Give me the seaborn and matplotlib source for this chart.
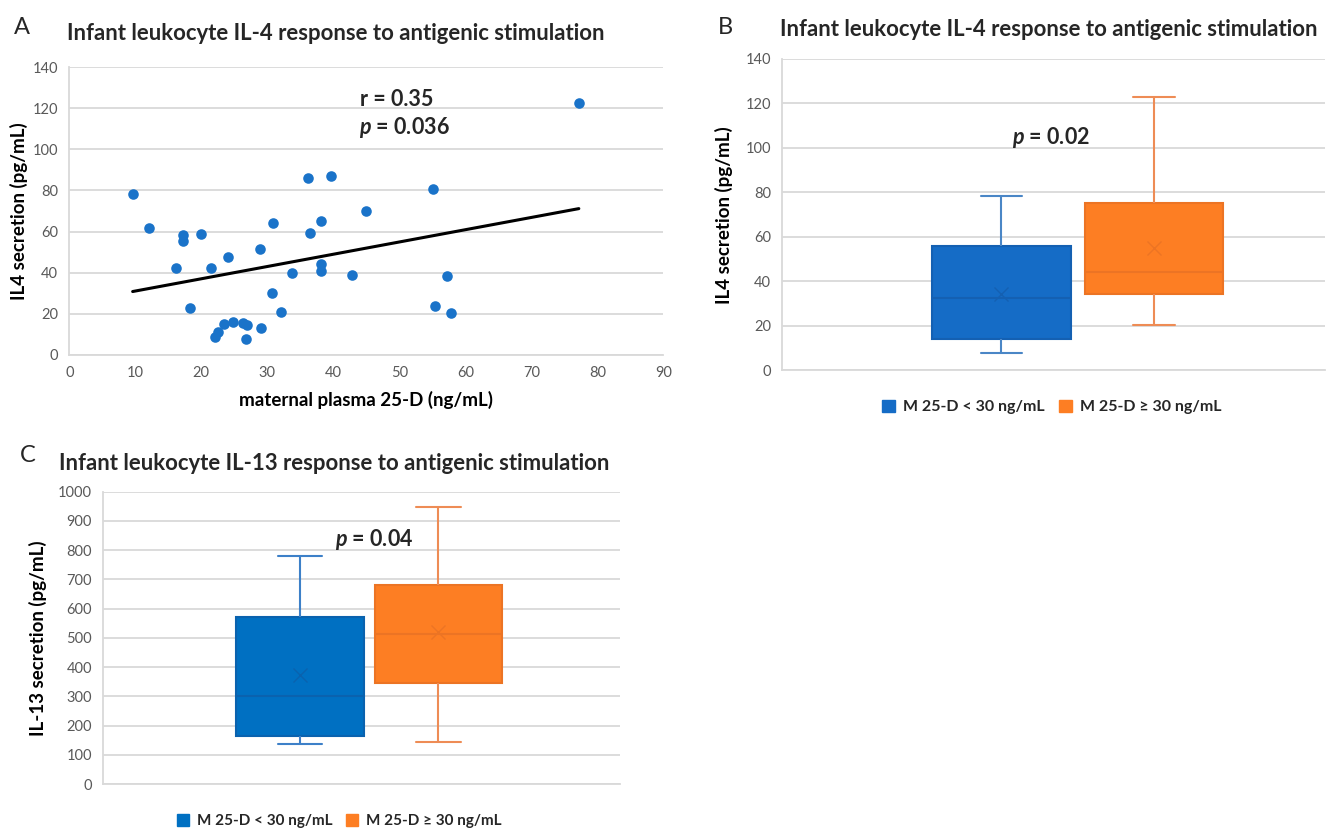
import numpy as np
import pandas as pd
import matplotlib
matplotlib.use("Agg")
import matplotlib.pyplot as plt
import matplotlib.cbook as cbook
from matplotlib.patches import Patch
import seaborn as sns

# ---------------- data ----------------
# Panel A: maternal plasma 25-D vs infant IL-4 secretion
vitd_ng_ml = [9.6, 12.1, 16.1, 17.2, 17.3, 18.3, 19.9, 21.5, 22.0, 22.6, 23.5, 24.8,
              24.1, 26.3, 26.9, 26.7, 28.9, 29.1, 30.8, 30.7, 32.1, 33.8, 36.2, 36.4,
              38.2, 38.2, 38.2, 39.6, 42.8, 45.0, 55.1, 55.4, 57.2, 57.9, 77.2]
il4_pg_ml = [78.3, 61.6, 42.4, 58.5, 55.2, 22.7, 58.9, 42.2, 8.8, 11.1, 14.8, 16.1,
             47.4, 15.3, 14.3, 7.8, 51.5, 13.0, 64.1, 30.1, 20.8, 39.8, 86.2, 59.1,
             44.2, 40.9, 65.3, 87.2, 38.7, 70.1, 80.6, 23.7, 38.5, 20.5, 122.7]
vitd_cutoff = 30

# Panel C: IL-13 secretion per group (pg/mL)
il13_low = [137, 164, 250, 300, 408, 572, 780]
il13_high = [143, 347, 440, 513, 564, 680, 946]

group_labels = ["M 25-D < 30 ng/mL", "M 25-D \u2265 30 ng/mL"]
titles = ["Infant leukocyte IL-4 response to antigenic stimulation",
          "Infant leukocyte IL-4 response to antigenic stimulation",
          "Infant leukocyte IL-13 response to antigenic stimulation"]

# --------------- Excel-style (exclusive) quartiles for box plots ---------------
_orig_boxplot_stats = cbook.boxplot_stats


def excel_boxplot_stats(X, whis=1.5, bootstrap=None, labels=None, autorange=False):
    stats = _orig_boxplot_stats(X, whis=whis, bootstrap=bootstrap, labels=labels,
                                autorange=autorange)
    for st, x in zip(stats, X):
        x = np.asarray(x, dtype=float)
        q1, med, q3 = np.percentile(x, [25, 50, 75], method="weibull")
        iqr = q3 - q1
        lo, hi = q1 - whis * iqr, q3 + whis * iqr
        inside = x[(x >= lo) & (x <= hi)]
        st.update(q1=q1, med=med, q3=q3, iqr=iqr, whislo=inside.min(),
                  whishi=inside.max(), fliers=x[(x < lo) | (x > hi)],
                  mean=x.mean())
    return stats


cbook.boxplot_stats = excel_boxplot_stats

# ---------------- style ----------------
sns.set_theme(style="white")
FONT = ["Lato", "DejaVu Sans"]
plt.rcParams["font.family"] = FONT
plt.rcParams["mathtext.fontset"] = "custom"
plt.rcParams["mathtext.it"] = "Lato:italic:bold"
plt.rcParams["mathtext.rm"] = "Lato:bold"

W, H = 1331, 832
fig = plt.figure(figsize=(W / 100, H / 100), dpi=100)

GRID = "#D9D9D9"
TICK = "#595959"
BLUE_A = "#1A73C9"


def ax_at(l, t, r, b):
    return fig.add_axes([l / W, 1 - b / H, (r - l) / W, (b - t) / H])


def style_axes(ax, yticks):
    ax.set_axisbelow(True)
    ax.set_yticks(yticks)
    ax.yaxis.grid(True, color=GRID, lw=1.3)
    ax.xaxis.grid(False)
    for s in ["top", "right"]:
        ax.spines[s].set_visible(False)
    for s in ["left", "bottom"]:
        ax.spines[s].set_color(GRID)
        ax.spines[s].set_linewidth(1.3)
    ax.tick_params(axis="both", length=0, labelsize=10.5, labelcolor=TICK, pad=8)


def ftext(x, y, s, **kw):
    fig.text(x / W, 1 - y / H, s, **kw)


# ---------------- Panel A ----------------
axA = ax_at(69.3, 67.3, 663.3, 354.7)
sns.scatterplot(x=vitd_ng_ml, y=il4_pg_ml, color=BLUE_A, s=58, linewidth=0, ax=axA, zorder=3)
sns.regplot(x=vitd_ng_ml, y=il4_pg_ml, scatter=False, ci=None, truncate=True,
            color="black", line_kws=dict(lw=2.2), ax=axA)
axA.set_xlim(0, 90)
axA.set_ylim(0, 140)
axA.set_xticks(range(0, 91, 10))
style_axes(axA, range(0, 141, 20))
axA.set_xlabel("maternal plasma 25-D (ng/mL)", fontsize=13.5, fontweight="bold", color="black")
axA.xaxis.set_label_coords(0.4995, -0.125)
axA.set_ylabel("IL4 secretion (pg/mL)", fontsize=13.5, fontweight="bold", color="black")
axA.yaxis.set_label_coords(-0.07, 0.5)


# ---------------- box panels ----------------
def box_panel(ax, values_low, values_high, faces, edges, whisk, gap, capw):
    df = pd.DataFrame({
        "panel": [""] * (len(values_low) + len(values_high)),
        "group": [group_labels[0]] * len(values_low) + [group_labels[1]] * len(values_high),
        "value": list(values_low) + list(values_high),
    })
    for i, lvl in enumerate(group_labels):
        sns.boxplot(data=df[df["group"] == lvl], x="panel", y="value", hue="group",
                    hue_order=group_labels, palette=dict(zip(group_labels, faces)),
                    saturation=1, dodge=True, width=0.8, gap=gap, linewidth=1.5,
                    linecolor=edges[i], showfliers=False, showmeans=True,
                    meanprops=dict(marker="x", markeredgecolor=edges[i],
                                   markersize=10, markeredgewidth=1.0),
                    whiskerprops=dict(color=whisk[i], lw=1.5),
                    capprops=dict(color=whisk[i], lw=1.5),
                    medianprops=dict(color=edges[i], lw=1.5),
                    capwidths=capw, legend=False, ax=ax)
    ax.set_xticks([])
    ax.set_xlabel("")


# Panel B
axB = ax_at(782, 59, 1325, 370.3)
grp = ["low" if v < vitd_cutoff else "high" for v in vitd_ng_ml]
il4_low = [y for y, g in zip(il4_pg_ml, grp) if g == "low"]
il4_high = [y for y, g in zip(il4_pg_ml, grp) if g == "high"]
box_panel(axB, il4_low, il4_high,
          faces=["#156CC6", "#FD7E23"], edges=["#1460B2", "#EC7424"],
          whisk=["#4A86C6", "#EE8C55"], gap=0.09, capw=0.108)
axB.set_xlim(-0.7745, 0.648)
axB.set_ylim(0, 140)
style_axes(axB, range(0, 141, 20))
axB.set_ylabel("IL4 secretion (pg/mL)", fontsize=13.5, fontweight="bold", color="black")
axB.yaxis.set_label_coords(-0.0902, 0.5)

# Panel C
axC = ax_at(103, 491.7, 620, 784)
box_panel(axC, il13_low, il13_high,
          faces=["#0070C2", "#FD7E23"], edges=["#0A62AE", "#EC7424"],
          whisk=["#3D80C8", "#EE8C55"], gap=0.08, capw=0.13)
axC.set_xlim(-0.7698, 0.7255)
axC.set_ylim(0, 1000)
style_axes(axC, range(0, 1001, 100))
axC.set_ylabel("IL-13 secretion (pg/mL)", fontsize=13.5, fontweight="bold", color="black")
axC.yaxis.set_label_coords(-0.1083, 0.5)

# ---------------- titles and panel letters ----------------
ftext(14, 28, "A", fontsize=17, va="center", ha="left")
ftext(718, 27, "B", fontsize=17, va="center", ha="left")
ftext(20, 455, "C", fontsize=17, va="center", ha="left")
ftext(67, 34, titles[0], fontsize=15.9, fontweight="bold", va="center", ha="left")
ftext(780, 30, titles[1], fontsize=15.9, fontweight="bold", va="center", ha="left")
ftext(59, 463, titles[2], fontsize=15.9, fontweight="bold", va="center", ha="left")

# ---------------- statistics annotations ----------------
ftext(360, 100, "r = 0.35", fontsize=15.5, fontweight="bold", va="center", ha="left")
ftext(359, 128, "$p$ = 0.036", fontsize=15.5, fontweight="bold", va="center", ha="left")
ftext(1012, 137, "$p$ = 0.02", fontsize=15.5, fontweight="bold", va="center", ha="left")
ftext(335, 539, "$p$ = 0.04", fontsize=15.5, fontweight="bold", va="center", ha="left")

# ---------------- legends ----------------
for cx, cy, cols, fs in [(1052, 407, ["#156CC6", "#FD7E23"], 11.5),
                         (339, 821, ["#0070C2", "#FD7E23"], 11.0)]:
    handles = [Patch(facecolor=c, edgecolor=c) for c in cols]
    fig.legend(handles, group_labels, loc="center", ncol=2,
               bbox_to_anchor=(cx / W, 1 - cy / H), frameon=False,
               prop=dict(family=FONT, weight="bold", size=fs),
               handlelength=0.8, handleheight=0.8, handletextpad=0.5,
               columnspacing=0.9, borderpad=0)

fig.savefig("out.png", dpi=100)
